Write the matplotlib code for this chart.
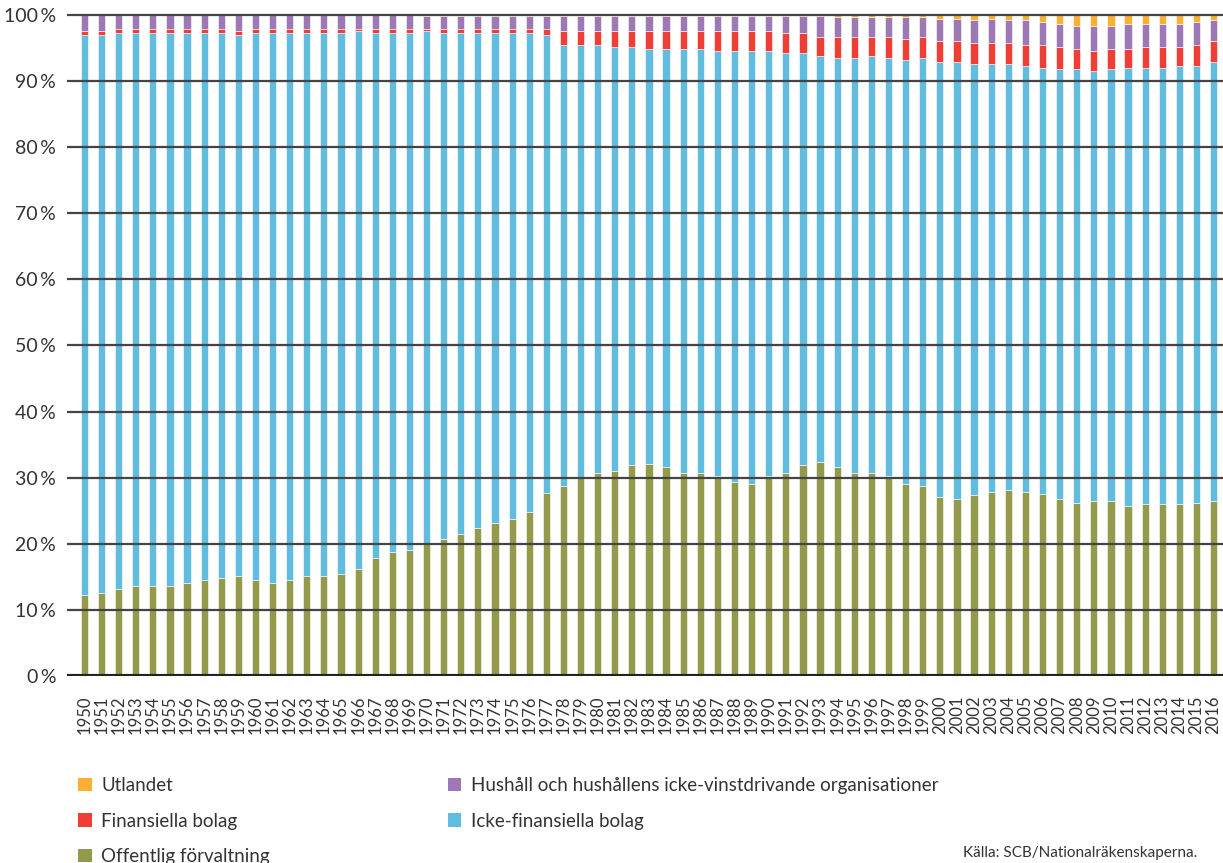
import matplotlib.pyplot as plt
from matplotlib.patches import Patch
import numpy as np

years = list(range(1950, 2017))

# Offentlig förvaltning (%)
offentlig = [12.3, 12.6, 13.2, 13.6, 13.6, 13.6, 14.0, 14.5, 14.8, 15.1,
             14.5, 14.0, 14.5, 15.1, 15.1, 15.4, 16.2, 17.9, 18.7, 19.0,
             19.9, 20.7, 21.5, 22.4, 23.2, 23.8, 24.8, 27.7, 28.7, 29.9,
             30.7, 31.0, 31.9, 32.1, 31.6, 30.7, 30.7, 30.2, 29.3, 29.0,
             30.2, 30.7, 31.9, 32.4, 31.6, 30.7, 30.7, 30.2, 29.0, 28.7,
             27.1, 26.8, 27.4, 27.9, 28.2, 27.9, 27.6, 26.8, 26.2, 26.5,
             26.5, 25.7, 26.0, 26.0, 26.0, 26.2, 26.5]
# Icke-finansiella bolag (%)
icke_fin = [84.6, 84.3, 84.0, 83.6, 83.6, 83.6, 83.2, 82.7, 82.4, 81.8,
            82.7, 83.2, 82.7, 82.1, 82.1, 81.8, 81.3, 79.3, 78.5, 78.2,
            77.6, 76.5, 75.7, 74.8, 74.0, 73.4, 72.4, 69.2, 66.8, 65.6,
            64.8, 64.2, 63.3, 62.8, 63.3, 64.2, 64.2, 64.4, 65.3, 65.6,
            64.4, 63.6, 62.4, 61.4, 61.9, 62.8, 63.1, 63.3, 64.2, 64.8,
            65.8, 66.1, 65.2, 64.7, 64.4, 64.4, 64.4, 65.0, 65.6, 65.0,
            65.3, 66.3, 66.0, 66.0, 66.3, 66.1, 66.4]
# Finansiella bolag (%)
finansiella = [0.6, 0.6, 0.6, 0.6, 0.6, 0.6, 0.6, 0.6, 0.6, 0.6,
               0.6, 0.6, 0.6, 0.6, 0.6, 0.6, 0.3, 0.6, 0.6, 0.6,
               0.3, 0.6, 0.6, 0.6, 0.6, 0.6, 0.6, 0.9, 2.0, 2.0,
               2.0, 2.3, 2.3, 2.6, 2.6, 2.6, 2.6, 2.9, 2.9, 2.9,
               2.9, 2.9, 2.9, 2.8, 3.1, 3.1, 2.8, 3.1, 3.1, 3.1,
               3.1, 3.1, 3.1, 3.1, 3.1, 3.1, 3.4, 3.4, 3.1, 3.1,
               3.1, 2.9, 3.2, 3.2, 2.9, 3.1, 3.1]
# Hushåll och hushållens icke-vinstdrivande organisationer (%)
hushall = [2.5, 2.5, 2.2, 2.2, 2.2, 2.2, 2.2, 2.2, 2.2, 2.5,
           2.2, 2.2, 2.2, 2.2, 2.2, 2.2, 2.2, 2.2, 2.2, 2.2,
           2.0, 2.0, 2.0, 2.0, 2.0, 2.0, 2.0, 2.0, 2.3, 2.3,
           2.3, 2.3, 2.3, 2.3, 2.3, 2.3, 2.3, 2.3, 2.3, 2.3,
           2.3, 2.6, 2.6, 3.2, 3.1, 3.1, 3.1, 3.1, 3.4, 3.1,
           3.4, 3.4, 3.5, 3.7, 3.5, 3.8, 3.5, 3.4, 3.4, 3.7,
           3.4, 3.7, 3.4, 3.4, 3.4, 3.5, 3.2]
# Utlandet (%)
utlandet = [0.0, 0.0, 0.0, 0.0, 0.0, 0.0, 0.0, 0.0, 0.0, 0.0,
            0.0, 0.0, 0.0, 0.0, 0.0, 0.0, 0.0, 0.0, 0.0, 0.0,
            0.2, 0.2, 0.2, 0.2, 0.2, 0.2, 0.2, 0.2, 0.2, 0.2,
            0.2, 0.2, 0.2, 0.2, 0.2, 0.2, 0.2, 0.2, 0.2, 0.2,
            0.2, 0.2, 0.2, 0.2, 0.3, 0.3, 0.3, 0.3, 0.3, 0.3,
            0.6, 0.6, 0.8, 0.6, 0.8, 0.8, 1.1, 1.4, 1.7, 1.7,
            1.7, 1.4, 1.4, 1.4, 1.4, 1.1, 0.8]

series = [
    ('Offentlig förvaltning', offentlig, '#939A4B'),
    ('Icke-finansiella bolag', icke_fin, '#62BCE0'),
    ('Finansiella bolag', finansiella, '#EF3E36'),
    ('Hushåll och hushållens icke-vinstdrivande organisationer', hushall, '#9E78B5'),
    ('Utlandet', utlandet, '#FBB034'),
]

plt.rcParams['font.family'] = ['Lato', 'DejaVu Sans']
text_col = '#333333'

fig = plt.figure(figsize=(12.23, 8.63), dpi=100)
ax = fig.add_axes([0.055, 0.2167, 0.945, 0.7683])

x = np.arange(len(years))
bottom = np.zeros(len(years))
for name, vals, col in series:
    vals = np.array(vals)
    ax.bar(x, vals, width=0.42, bottom=bottom, color=col,
           edgecolor='white', linewidth=0.4, zorder=2)
    bottom += vals

ax.set_xlim(-1.0, len(years) - 0.45)
ax.set_ylim(0, 100.3)

yt = np.arange(0, 101, 10)
ax.set_yticks(yt)
ax.set_yticklabels([f'{v}\u2009%' for v in yt], fontsize=14, color=text_col)
for v in yt[1:]:
    ax.axhline(v, color='#444444', linewidth=1.6, zorder=3)
ax.axhline(0, color='#222222', linewidth=3, zorder=3)

ax.set_xticks(x)
ax.set_xticklabels([str(y) for y in years], rotation=90, fontsize=12, color=text_col)
ax.tick_params(axis='x', length=0, pad=14)
ax.tick_params(axis='y', length=0, pad=8)
for s in ax.spines.values():
    s.set_visible(False)

# legend
h = {name: Patch(facecolor=col) for name, _, col in series}
left = ['Utlandet', 'Finansiella bolag', 'Offentlig förvaltning']
right = ['Hushåll och hushållens icke-vinstdrivande organisationer', 'Icke-finansiella bolag']
for names, xpos in [(left, 0.058), (right, 0.360)]:
    fig.legend([h[n] for n in names], names, loc='upper left',
               bbox_to_anchor=(xpos, 0.108), frameon=False, fontsize=13.5,
               handlelength=0.72, handleheight=0.72, handletextpad=0.5,
               labelspacing=0.98, labelcolor=text_col, borderaxespad=0)

fig.text(0.979, 0.003, 'Källa: SCB/Nationalräkenskaperna.', ha='right', va='bottom',
         fontsize=11, color=text_col)

fig.savefig('out.png', dpi=100)
